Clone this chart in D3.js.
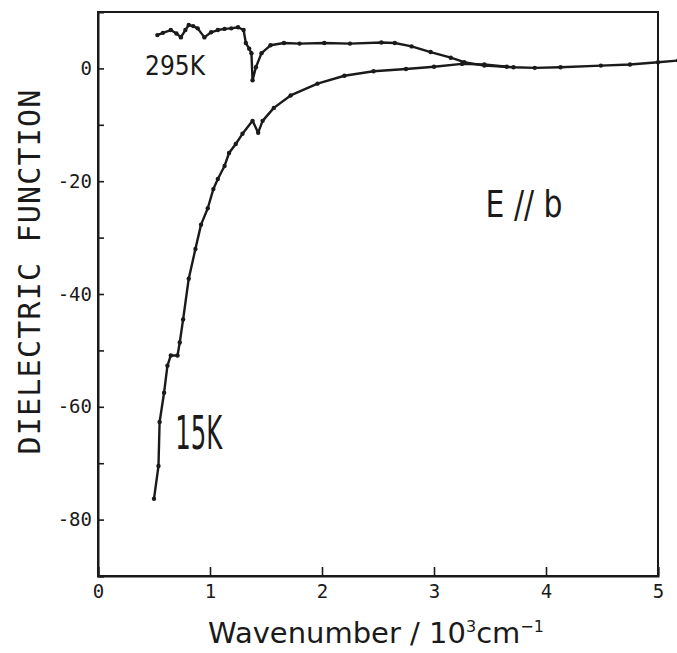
<!DOCTYPE html>
<html>
<head>
<meta charset="utf-8">
<script src="https://cdn.jsdelivr.net/npm/d3@7"></script>
<style>
  body { margin: 0; background: #fff; }
  svg { display: block; }
</style>
</head>
<body>
<div id="chart"></div>
<script>
// 15 K curve (wavenumber in 10^3 cm^-1, dielectric function)
const wn15K = [0.50, 0.54, 0.55, 0.59, 0.62, 0.65, 0.71, 0.73, 0.76, 0.81, 0.87, 0.92, 0.98, 1.03,
    1.07, 1.13, 1.17, 1.23, 1.29, 1.38, 1.43, 1.47, 1.57, 1.72, 1.96, 2.20, 2.46, 2.75, 3.00, 3.25,
    3.45, 3.65];
const eps15K = [-76.3, -70.5, -62.7, -57.5, -52.7, -50.9, -50.9, -48.6, -44.5, -37.3, -32.0, -27.7,
    -24.8, -21.4, -19.6, -17.3, -15.0, -13.4, -11.6, -9.3, -11.4, -9.3, -7.0, -4.8, -2.7, -1.3,
    -0.5, -0.1, 0.3, 0.8, 0.7, 0.3];

// 295 K curve
const wn295K = [0.53, 0.58, 0.65, 0.70, 0.74, 0.78, 0.81, 0.85, 0.89, 0.95, 1.01, 1.07, 1.13, 1.19,
    1.25, 1.30, 1.32, 1.35, 1.37, 1.38, 1.41, 1.46, 1.54, 1.66, 1.80, 2.02, 2.25, 2.53, 2.65, 2.80,
    2.97, 3.15, 3.27, 3.45, 3.71, 3.90, 4.13, 4.49, 4.75, 5.00, 5.18];
const eps295K = [5.9, 6.3, 6.8, 6.2, 5.5, 6.8, 7.7, 7.5, 7.1, 5.5, 6.4, 6.8, 7.0, 7.1,
    7.3, 6.8, 4.5, 3.5, 2.7, -2.1, 0.2, 2.7, 4.1, 4.5, 4.4, 4.5, 4.4, 4.6, 4.5, 3.9,
    2.9, 1.9, 1.1, 0.5, 0.2, 0.1, 0.2, 0.5, 0.7, 1.1, 1.4];

// axis ticks
const xTicks = [0, 1, 2, 3, 4, 5];
const yTicks = [-90, -80, -70, -60, -50, -40, -30, -20, -10, 0];
const yLabelled = [0, -20, -40, -60, -80];

const margin = { top: 12, right: 19, bottom: 77, left: 98 };
const width = 677 - margin.left - margin.right;
const height = 653 - margin.top - margin.bottom;
const ink = "#1a1a1a";
const mono = "'DejaVu Sans Mono', monospace";
const handFont = "'DejaVu Sans', sans-serif";

const svg = d3.select("#chart").append("svg")
    .attr("width", 677)
    .attr("height", 653)
    .append("g")
    .attr("transform", "translate(" + margin.left + "," + margin.top + ")");

const x = d3.scaleLinear().domain([0, 5]).range([0, width]);
const y = d3.scaleLinear().domain([-90, 10]).range([height, 0]);

// frame
svg.append("rect")
    .attr("width", width)
    .attr("height", height)
    .attr("fill", "none")
    .attr("stroke", ink)
    .attr("stroke-width", 2);

// y axis, ticks inward
const yAxis = svg.append("g")
    .call(d3.axisLeft(y)
        .tickValues(yTicks)
        .tickSize(-6)
        .tickPadding(6)
        .tickFormat(d => yLabelled.includes(d) ? String(d) : ""));

// x axis, ticks inward
const xAxis = svg.append("g")
    .attr("transform", `translate(0,${height})`)
    .call(d3.axisBottom(x)
        .tickValues(xTicks)
        .tickSize(-9)
        .tickPadding(9)
        .tickFormat(d3.format("d")));

[yAxis, xAxis].forEach(a => {
    a.select(".domain").attr("stroke", ink).attr("stroke-width", 2);
    a.selectAll(".tick line").attr("stroke", ink).attr("stroke-width", 1.6);
    a.selectAll(".tick text")
        .attr("fill", ink)
        .style("font-family", mono)
        .style("font-size", "19px");
});

const line = d3.line()
    .x(d => x(d[0]))
    .y(d => y(d[1]));

const curves = [
    d3.zip(wn15K, eps15K),
    d3.zip(wn295K, eps295K)
];

curves.forEach(pts => {
    svg.append("path")
        .datum(pts)
        .attr("d", line)
        .attr("fill", "none")
        .attr("stroke", ink)
        .attr("stroke-width", 2.4)
        .attr("stroke-linejoin", "round");

    svg.selectAll(null)
        .data(pts)
        .enter().append("circle")
        .attr("cx", d => x(d[0]))
        .attr("cy", d => y(d[1]))
        .attr("r", 2.2)
        .attr("fill", ink);
});

// annotations
function note(xv, yv, size, len, str) {
    svg.append("text")
        .attr("x", x(xv))
        .attr("y", y(yv))
        .attr("font-family", handFont)
        .attr("font-size", size)
        .attr("fill", ink)
        .attr("textLength", len)
        .attr("lengthAdjust", "spacingAndGlyphs")
        .text(str);
}
note(0.42, -1.2, 27, 60, "295K");
note(0.69, -67.5, 46, 47, "15K");
note(3.46, -26.4, 38, 77, "E // b");

// axis titles
svg.append("text")
    .attr("transform", `translate(${-58},${y(-36)}) rotate(-90)`)
    .attr("text-anchor", "middle")
    .attr("font-family", mono)
    .attr("font-size", 30)
    .attr("letter-spacing", 1.2)
    .attr("fill", ink)
    .text("DIELECTRIC FUNCTION");

const xTitle = svg.append("text")
    .attr("x", x(2.5) - 2)
    .attr("y", height + 67)
    .attr("text-anchor", "middle")
    .attr("font-family", handFont)
    .attr("font-size", 29)
    .attr("fill", ink);
xTitle.append("tspan").text("Wavenumber / 10");
xTitle.append("tspan").attr("dy", -11).attr("font-size", 16).text("3");
xTitle.append("tspan").attr("dy", 11).text("cm");
xTitle.append("tspan").attr("dy", -11).attr("font-size", 16).text("−1");
</script>
</body>
</html>
